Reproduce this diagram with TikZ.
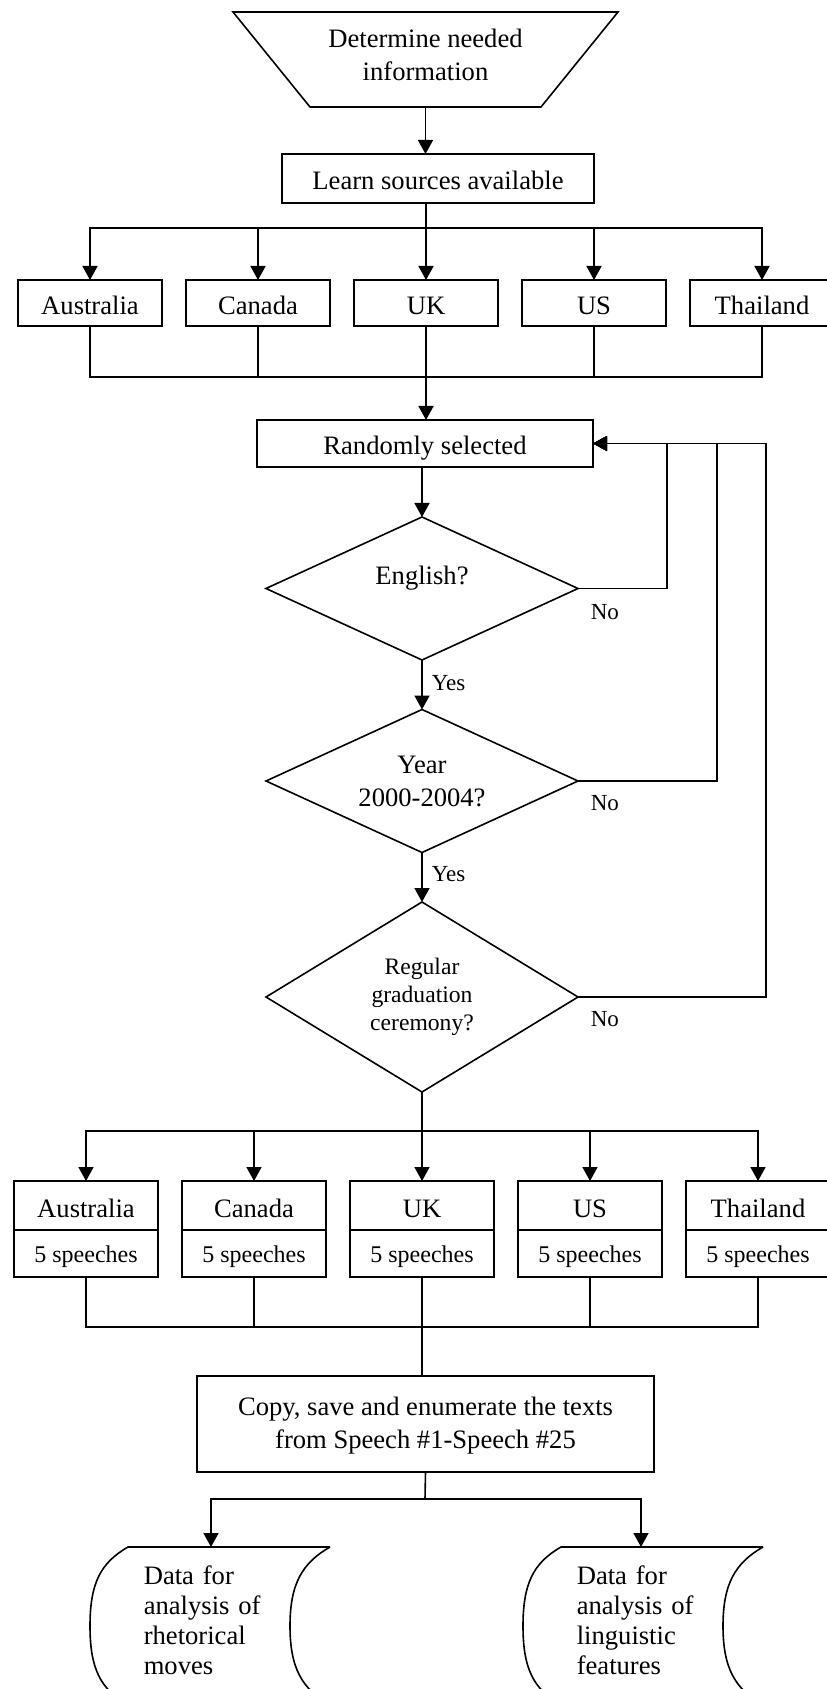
\documentclass[tikz,border=0pt]{standalone}
\usepackage{fontspec}
\setmainfont{Liberation Serif}
\usetikzlibrary{shapes.geometric, arrows.meta, positioning}

\newcommand{\bigtxt}{\fontsize{13.3}{16.5}\selectfont}
\newcommand{\smalltxt}{\fontsize{12}{14}\selectfont}
\newcommand{\regtxt}{\fontsize{11.8}{14}\selectfont}
\newcommand{\labtxt}{\fontsize{11.5}{13}\selectfont}
\newcommand{\stortxt}{\fontsize{13.3}{15}\selectfont}

\begin{document}
\begin{tikzpicture}[
    x=0.5pt, y=-0.5pt, line width=0.8pt,
    box/.style={rectangle, draw, outer sep=0pt, align=center, font=\bigtxt},
    onebox/.style={box, text height=12pt, text depth=0.5pt},
    cbox/.style={onebox, minimum width=72pt, minimum height=23pt},
    sbox/.style={box, minimum width=72pt, minimum height=23.5pt, font=\smalltxt, text height=9.5pt, text depth=0.5pt},
    decision/.style={diamond, draw, inner sep=0pt, outer sep=0pt, aspect=2.2, minimum width=156pt, minimum height=71.5pt, align=center, font=\bigtxt},
    lbl/.style={font=\labtxt, inner sep=1pt, anchor=west},
    stored/.style={minimum width=101pt, minimum height=79pt, inner sep=0pt, outer sep=0pt},
    stortext/.style={text width=86pt, inner sep=0pt, align=left, font=\stortxt, anchor=north west},
    arrow/.style={-{Triangle[length=7pt, width=7.5pt]}},
    node distance=0pt and 12pt
  ]
    \useasboundingbox (0,0) rectangle (826,1689);

    \node[align=center, font=\bigtxt, outer sep=0pt, minimum width=192.5pt, minimum height=47.5pt, text depth=5pt] (need) at (425.5,59.5) {Determine needed\\information};
    \draw (need.north west) -- (need.north east) -- ([xshift=-38.5pt]need.south east) -- ([xshift=38.5pt]need.south west) -- cycle;

    \node[onebox, minimum width=156pt, minimum height=24.5pt] (learn) at (438,178.5) {Learn sources available};

    \node[cbox] (au1) at (90,303) {Australia};
    \node[cbox, right=of au1] (ca1) {Canada};
    \node[cbox, right=of ca1] (uk1) {UK};
    \node[cbox, right=of uk1] (us1) {US};
    \node[cbox, right=of us1] (th1) {Thailand};

    \node[onebox, minimum width=168pt, minimum height=23.5pt] (rand) at (425,443.5) {Randomly selected};

    \node[decision, text depth=13pt] (eng) at (422,588.5) {English?};
    \node[decision] (year) at (422,781) {Year\\2000-2004?};
    \node[decision, aspect=1.63, minimum height=95pt, font=\regtxt] (reg) at (422,997) {Regular\\graduation\\ceremony?};

    \node[lbl] (no1) at (588,612) {No};
    \node[lbl] (no2) at (588,803) {No};
    \node[lbl] (no3) at (588,1019) {No};
    \node[lbl] (yes1) at (429,683) {Yes};
    \node[lbl] (yes2) at (429,874) {Yes};

    \node[cbox, minimum height=24.5pt] (au2) at (86,1205.5) {Australia};
    \node[cbox, minimum height=24.5pt, right=of au2] (ca2) {Canada};
    \node[cbox, minimum height=24.5pt, right=of ca2] (uk2) {UK};
    \node[cbox, minimum height=24.5pt, right=of uk2] (us2) {US};
    \node[cbox, minimum height=24.5pt, right=of us2] (th2) {Thailand};
    \node[sbox, below=of au2] (au2s) {5 speeches};
    \node[sbox, below=of ca2] (ca2s) {5 speeches};
    \node[sbox, below=of uk2] (uk2s) {5 speeches};
    \node[sbox, below=of us2] (us2s) {5 speeches};
    \node[sbox, below=of th2] (th2s) {5 speeches};

    \node[box, minimum width=228.5pt, minimum height=48pt, text depth=1pt] (copy) at (425.5,1424) {Copy, save and enumerate the texts\\from Speech \#1-Speech \#25};

    \node[stored] (ld) at (229,1626) {};
    \node[stored] (rd) at (662,1626) {};
    \node[stortext] (ldtxt) at ([shift={(15,18)}]ld.north west) {Data for\\analysis of\\rhetorical\\moves};
    \node[stortext] (rdtxt) at ([shift={(15,18)}]rd.north west) {Data for\\analysis of\\linguistic\\features};
    \foreach \n in {ld, rd}
      \draw (\n.north east) -- (\n.north west)
        .. controls +(-28,16) and +(0,-42) .. ([xshift=-19pt]\n.west)
        .. controls +(0,42) and +(-28,-16) .. (\n.south west) -- (\n.south east)
        .. controls +(-28,-16) and +(0,42) .. ([xshift=-20pt]\n.east)
        .. controls +(0,-42) and +(-28,16) .. (\n.north east);

    \draw[arrow] (need.south) -- (need.south |- learn.north);

    \coordinate (bus1) at (426,228);
    \draw (learn.south -| bus1) -- (bus1);
    \draw[arrow] (bus1) -| (au1.north);
    \draw[arrow] (bus1) -| (ca1.north);
    \draw[arrow] (bus1) -- (uk1.north);
    \draw[arrow] (bus1) -| (us1.north);
    \draw[arrow] (bus1) -| (th1.north);

    \coordinate (bus2) at (426,377);
    \draw (au1.south) |- (bus2);
    \draw (ca1.south) |- (bus2);
    \draw (uk1.south) -- (bus2);
    \draw (us1.south) |- (bus2);
    \draw (th1.south) |- (bus2);
    \draw[arrow] (bus2) -- (bus2 |- rand.north);

    \draw[arrow] (eng.north |- rand.south) -- (eng.north);
    \draw[arrow] (eng.south) -- (year.north);
    \draw[arrow] (year.south) -- (reg.north);

    \draw[arrow] (eng.east) -- ++(89,0) |- (rand.east);
    \draw[arrow] (year.east) -- ++(139,0) |- (rand.east);
    \draw[arrow] (reg.east) -- ++(188,0) |- (rand.east);

    \coordinate (bus3) at (422,1131);
    \draw (reg.south) -- (bus3);
    \draw[arrow] (bus3) -| (au2.north);
    \draw[arrow] (bus3) -| (ca2.north);
    \draw[arrow] (bus3) -- (uk2.north);
    \draw[arrow] (bus3) -| (us2.north);
    \draw[arrow] (bus3) -| (th2.north);

    \coordinate (bus4) at (422,1327);
    \draw (au2s.south) |- (bus4);
    \draw (ca2s.south) |- (bus4);
    \draw (uk2s.south) -- (bus4);
    \draw (us2s.south) |- (bus4);
    \draw (th2s.south) |- (bus4);
    \draw (bus4) -- (bus4 |- copy.north);

    \coordinate (bus5) at (425,1499);
    \draw (copy.south) -- (bus5);
    \draw[arrow] (bus5) -| ([xshift=-9pt]ld.north);
    \draw[arrow] (bus5) -| ([xshift=-10.5pt]rd.north);
  \end{tikzpicture}
\end{document}
